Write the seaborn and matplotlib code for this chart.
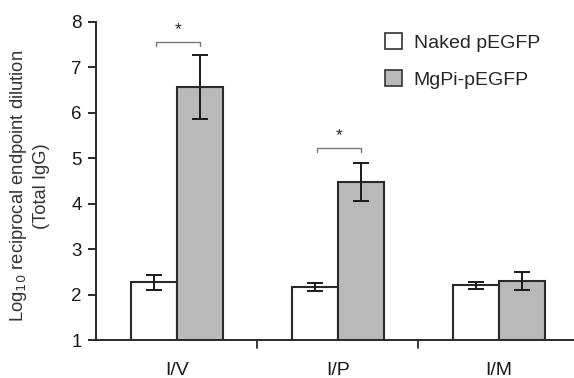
import matplotlib
matplotlib.use("Agg")
import matplotlib.pyplot as plt
import seaborn as sns
import pandas as pd
import numpy as np

categories = ["I/V", "I/P", "I/M"]
groups = ["Naked pEGFP", "MgPi-pEGFP"]
naked_vals = [2.27, 2.17, 2.20]
naked_err = [0.17, 0.09, 0.08]
mgpi_vals = [6.57, 4.48, 2.30]
mgpi_err = [0.70, 0.41, 0.19]
# significance brackets: (category index, bracket height)
sig_cats = [0, 1]
sig_heights = [7.56, 5.23]

sns.set_theme(style="white")
plt.rcParams["font.family"] = ["Liberation Sans", "DejaVu Sans"]

df = pd.DataFrame({
    "route": categories * 2,
    "group": [groups[0]] * 3 + [groups[1]] * 3,
    "value": naked_vals + mgpi_vals,
    "err": naked_err + mgpi_err,
})

fig = plt.figure(figsize=(5.74, 3.78), dpi=100)
ax = fig.add_axes([0.167, 0.1005, 0.833, 0.8415])

sns.barplot(data=df, x="route", y="value", hue="group", order=categories,
            hue_order=groups, palette=["#ffffff", "#b9b9b9"], errorbar=None,
            width=0.572, edgecolor="#2a2a2a", linewidth=1.5, ax=ax, saturation=1)

# error bars from bar geometry
bars = [p for p in ax.patches if p.get_height() > 0 and p.get_width() > 0][:6]
errs = naked_err + mgpi_err
for p, e in zip(bars, errs):
    xc = p.get_x() + p.get_width() / 2
    ax.errorbar(xc, p.get_y() + p.get_height(), yerr=e, fmt="none",
                ecolor="#1a1a1a", elinewidth=1.4, capsize=5.5, capthick=1.4, zorder=5)

# significance brackets
for ci, h in zip(sig_cats, sig_heights):
    x0 = ci - 0.13
    x1 = ci + 0.145
    ax.plot([x0, x0, x1, x1], [h - 0.1, h, h, h - 0.1], color="#777777", lw=1.0,
            clip_on=False)
    ax.text((x0 + x1) / 2, h + 0.1, "*", ha="center", va="bottom", fontsize=12.5,
            color="#222222")

ax.set_ylim(1, 8)
ax.set_xlim(-0.503, 2.466)
ax.set_yticks(range(1, 9))
ax.set_yticklabels([str(i) for i in range(1, 9)], fontsize=13.5)

ax.set_xticks([0, 1, 2])
ax.set_xticklabels(categories, fontsize=14)
ax.tick_params(axis="x", length=0, pad=15.5, labelcolor="#1a1a1a")
# separator ticks
for xs in [0.5, 1.5]:
    ax.plot([xs, xs], [1, 0.83], color="#2a2a2a", lw=1.3, clip_on=False)

ax.tick_params(axis="y", direction="out", length=6, width=1.4, color="#2a2a2a",
               left=True, pad=4, labelcolor="#1a1a1a")
for s in ["top", "right"]:
    ax.spines[s].set_visible(False)
for s in ["left", "bottom"]:
    ax.spines[s].set_color("#2a2a2a")
    ax.spines[s].set_linewidth(1.4)

ax.set_xlabel("")
ax.set_ylabel("")
fig.text(29 / 574, 1 - 186 / 378,
         "Log$_{10}$ reciprocal endpoint dilution\n(Total IgG)",
         rotation=90, ha="center", va="center", multialignment="center",
         fontsize=13.2, color="#333333", linespacing=1.25)

leg = ax.legend(loc="upper right", bbox_to_anchor=(0.965, 1.02), frameon=False,
                fontsize=14, handlelength=0.85, handleheight=0.85,
                handletextpad=0.6, labelspacing=0.95)
for h in leg.legend_handles:
    h.set_edgecolor("#333333")
    h.set_linewidth(1.2)

fig.savefig("out.png", dpi=100)
